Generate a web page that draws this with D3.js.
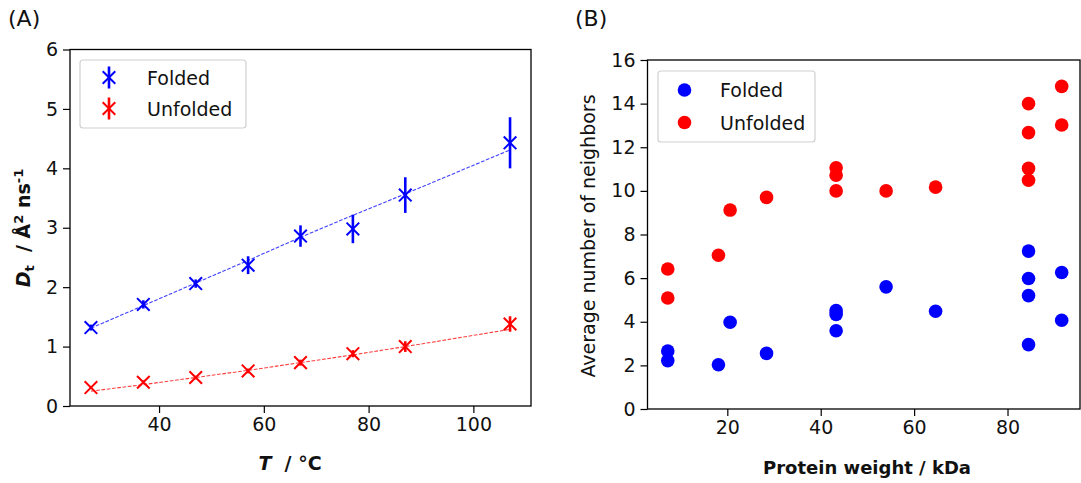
<!DOCTYPE html>
<html>
<head>
<meta charset="utf-8">
<script src="https://cdn.jsdelivr.net/npm/d3@7"></script>
<style>
  html, body { margin: 0; padding: 0; background: #fff; }
  svg { display: block; font-family: "DejaVu Sans", sans-serif; }
</style>
</head>
<body>
<svg id="chart" width="1081" height="483"></svg>
<script>
// ---------- Panel A data ----------
const temps = [27, 37, 47, 57, 67, 77, 87, 107];
const foldedD = [1.32, 1.71, 2.06, 2.37, 2.86, 2.98, 3.55, 4.43];
const foldedErr = [0.05, 0.07, 0.07, 0.15, 0.18, 0.24, 0.30, 0.43];
const unfoldedD = [0.31, 0.40, 0.48, 0.59, 0.73, 0.88, 1.00, 1.38];
const unfoldedErr = [0.02, 0.03, 0.03, 0.04, 0.05, 0.06, 0.09, 0.13];
const foldedFit = [1.31, 1.69, 2.07, 2.45, 2.84, 3.21, 3.57, 4.31];
const unfoldedFit = [0.25, 0.36, 0.48, 0.60, 0.73, 0.86, 1.00, 1.29];
const aXTicks = [40, 60, 80, 100];
const aYTicks = [0, 1, 2, 3, 4, 5, 6];

// ---------- Panel B data ----------
const foldedWeight = [7.25, 7.25, 18.1, 20.6, 28.4, 43.3, 43.3, 43.3, 54.0, 64.6, 84.5, 84.5, 84.5, 84.5, 91.6, 91.6];
const foldedNeighbors = [2.66, 2.22, 2.03, 3.98, 2.55, 4.51, 4.34, 3.59, 5.60, 4.48, 7.24, 5.98, 5.20, 2.95, 6.26, 4.07];
const unfoldedWeight = [7.25, 7.25, 18.1, 20.6, 28.4, 43.3, 43.3, 43.3, 54.0, 64.6, 84.5, 84.5, 84.5, 84.5, 91.6, 91.6];
const unfoldedNeighbors = [6.42, 5.09, 7.05, 9.12, 9.70, 11.06, 10.72, 10.00, 10.00, 10.17, 14.00, 12.67, 11.03, 10.49, 14.79, 13.02];
const bXTicks = [20, 40, 60, 80];
const bYTicks = [0, 2, 4, 6, 8, 10, 12, 14, 16];

const BLUE = "#0000ff", RED = "#ff0000";
const svg = d3.select("#chart");

function frame(g, x, y, xTicks, yTicks) {
  const [x0, x1] = x.range(), [y0, y1] = y.range();
  const xa = g.append("g").attr("transform", `translate(0,${y0})`)
    .call(d3.axisBottom(x).tickValues(xTicks).tickSize(7).tickPadding(5).tickFormat(d3.format("d")));
  const ya = g.append("g").attr("transform", `translate(${x0},0)`)
    .call(d3.axisLeft(y).tickValues(yTicks).tickSize(7).tickPadding(5).tickFormat(d3.format("d")));
  [xa, ya].forEach(a => {
    a.select(".domain").remove();
    a.selectAll(".tick line").attr("stroke", "#000").attr("stroke-width", 1.2);
    a.selectAll(".tick text").attr("font-size", 19).attr("fill", "#111")
      .attr("font-family", "DejaVu Sans");
  });
  g.append("rect").attr("x", x0).attr("y", y1).attr("width", x1 - x0).attr("height", y0 - y1)
    .attr("fill", "none").attr("stroke", "#000").attr("stroke-width", 1.3);
}

// ================= Panel A =================
const gA = svg.append("g");
const xA = d3.scaleLinear().domain([23, 111]).range([70, 531]);
const yA = d3.scaleLinear().domain([0, 6]).range([406, 49.5]);

svg.append("text").attr("x", 8).attr("y", 26).attr("font-size", 22).attr("fill", "#111").text("(A)");

const lineA = d3.line().x(d => xA(d[0])).y(d => yA(d[1]));
[[foldedFit, BLUE], [unfoldedFit, RED]].forEach(([fit, c]) => {
  gA.append("path").datum(temps.map((t, i) => [t, fit[i]]))
    .attr("d", lineA).attr("fill", "none").attr("stroke", c).attr("stroke-opacity", 0.75)
    .attr("stroke-width", 1.1).attr("stroke-dasharray", "3.7,1.6");
});

function xMarker(g, cx, cy, c, s) {
  g.append("path")
    .attr("d", `M${cx - s},${cy - s}L${cx + s},${cy + s}M${cx - s},${cy + s}L${cx + s},${cy - s}`)
    .attr("stroke", c).attr("stroke-width", 2).attr("fill", "none");
}
[[foldedD, foldedErr, BLUE], [unfoldedD, unfoldedErr, RED]].forEach(([vals, errs, c]) => {
  temps.forEach((t, i) => {
    gA.append("line").attr("x1", xA(t)).attr("x2", xA(t))
      .attr("y1", yA(vals[i] - errs[i])).attr("y2", yA(vals[i] + errs[i]))
      .attr("stroke", c).attr("stroke-width", 2.6);
    xMarker(gA, xA(t), yA(vals[i]), c, 6.3);
  });
});

frame(gA, xA, yA, aXTicks, aYTicks);

// legend A
gA.append("rect").attr("x", 80).attr("y", 60).attr("width", 166).attr("height", 68).attr("rx", 3)
  .attr("fill", "#fff").attr("fill-opacity", 0.8).attr("stroke", "#d0d0d0").attr("stroke-width", 1.2);
[["Folded", BLUE, 77.5], ["Unfolded", RED, 108.5]].forEach(([lab, c, ly]) => {
  gA.append("line").attr("x1", 109).attr("x2", 109).attr("y1", ly - 11).attr("y2", ly + 11)
    .attr("stroke", c).attr("stroke-width", 2.6);
  xMarker(gA, 109, ly, c, 6.3);
  gA.append("text").attr("x", 147).attr("y", ly + 7).attr("font-size", 19).attr("fill", "#111").text(lab);
});

// axis labels A
const xlA = svg.append("text").attr("x", 290).attr("y", 470).attr("text-anchor", "middle")
  .attr("font-size", 19).attr("font-weight", "bold").attr("fill", "#111");
xlA.append("tspan").attr("font-style", "italic").text("T");
xlA.append("tspan").text("\u00a0 / °C");

const ylA = svg.append("text").attr("transform", "translate(30,228) rotate(-90)")
  .attr("text-anchor", "middle").attr("font-size", 19).attr("font-weight", "bold").attr("fill", "#111");
ylA.append("tspan").attr("font-style", "italic").text("D");
ylA.append("tspan").attr("font-size", 13).attr("dy", 4).text("t");
ylA.append("tspan").attr("dy", -4).text("\u00a0 / Å");
ylA.append("tspan").attr("font-size", 13).attr("dy", -7).text("2");
ylA.append("tspan").attr("dy", 7).text(" ns");
ylA.append("tspan").attr("font-size", 13).attr("dy", -7).text("-1");

// ================= Panel B =================
const gB = svg.append("g");
const xB = d3.scaleLinear().domain([2.91, 95.52]).range([647.5, 1080]);
const yB = d3.scaleLinear().domain([0, 16]).range([409, 60]);

svg.append("text").attr("x", 575).attr("y", 26).attr("font-size", 22).attr("fill", "#111").text("(B)");

gB.selectAll("circle.f").data(foldedWeight.map((w, i) => [w, foldedNeighbors[i]])).enter()
  .append("circle").attr("cx", d => xB(d[0])).attr("cy", d => yB(d[1])).attr("r", 6.8).attr("fill", BLUE);
gB.selectAll("circle.u").data(unfoldedWeight.map((w, i) => [w, unfoldedNeighbors[i]])).enter()
  .append("circle").attr("cx", d => xB(d[0])).attr("cy", d => yB(d[1])).attr("r", 6.8).attr("fill", RED);

frame(gB, xB, yB, bXTicks, bYTicks);

gB.append("rect").attr("x", 658).attr("y", 71).attr("width", 157).attr("height", 71).attr("rx", 3)
  .attr("fill", "#fff").attr("fill-opacity", 0.8).attr("stroke", "#d0d0d0").attr("stroke-width", 1.2);
[["Folded", BLUE, 90], ["Unfolded", RED, 122.5]].forEach(([lab, c, ly]) => {
  gB.append("circle").attr("cx", 684.5).attr("cy", ly).attr("r", 6.8).attr("fill", c);
  gB.append("text").attr("x", 720).attr("y", ly + 7).attr("font-size", 19).attr("fill", "#111").text(lab);
});

svg.append("text").attr("x", 867).attr("y", 474).attr("text-anchor", "middle")
  .attr("font-size", 18).attr("font-weight", "bold").attr("fill", "#111").text("Protein weight / kDa");
svg.append("text").attr("transform", "translate(595,236) rotate(-90)").attr("text-anchor", "middle")
  .attr("font-size", 19).attr("fill", "#111").text("Average number of neighbors");
</script>
</body>
</html>
